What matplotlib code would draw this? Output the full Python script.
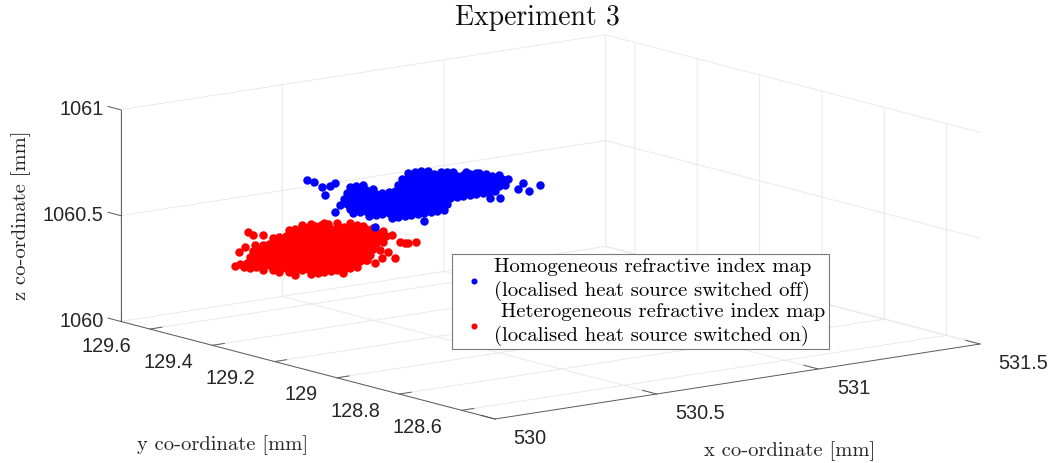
import numpy as np
import matplotlib
matplotlib.use("Agg")
import matplotlib.pyplot as plt
from matplotlib.transforms import offset_copy
from mpl_toolkits.mplot3d import proj3d

title_text = "Experiment 3"
x_label = "x co-ordinate [mm]"
y_label = "y co-ordinate [mm]"
z_label = "z co-ordinate [mm]"
legend_blue = "Homogeneous refractive index map\n(localised heat source switched off)"
legend_red = " Heterogeneous refractive index map\n(localised heat source switched on)"

x_ticks = [530, 530.5, 531, 531.5]
x_tick_labels = ["530", "530.5", "531", "531.5"]
y_ticks = [128.6, 128.8, 129, 129.2, 129.4, 129.6]
y_tick_labels = ["128.6", "128.8", "129", "129.2", "129.4", "129.6"]
z_ticks = [1060, 1060.5, 1061]
z_tick_labels = ["1060", "1060.5", "1061"]

blue_y_value = 129.093
blue_levels = [1060.658, 1060.683, 1060.708, 1060.733, 1060.758, 1060.783, 1060.808, 1060.833, 1060.858]
blue_x_rows = [
    [530.26, 530.28, 530.30, 530.32, 530.34, 530.36, 530.38, 530.40, 530.42],
    [530.19, 530.21, 530.23, 530.25, 530.27, 530.29, 530.31, 530.33, 530.35, 530.37, 530.39, 530.41, 530.43],
    [530.14, 530.16, 530.18, 530.20, 530.22, 530.24, 530.26, 530.28, 530.30, 530.32, 530.34, 530.36, 530.38, 530.40, 530.42, 530.44, 530.46, 530.48, 530.50, 530.52, 530.54, 530.56, 530.58],
    [530.13, 530.15, 530.17, 530.19, 530.21, 530.23, 530.25, 530.27, 530.29, 530.31, 530.33, 530.35, 530.37, 530.39, 530.41, 530.43, 530.45, 530.47, 530.49, 530.51, 530.53, 530.55, 530.57, 530.59, 530.61],
    [530.10, 530.12, 530.14, 530.16, 530.18, 530.20, 530.22, 530.24, 530.26, 530.28, 530.30, 530.32, 530.34, 530.36, 530.38, 530.40, 530.42, 530.44, 530.46, 530.48, 530.50, 530.52, 530.54, 530.56, 530.58, 530.60, 530.62],
    [530.11, 530.13, 530.15, 530.17, 530.19, 530.21, 530.23, 530.25, 530.27, 530.29, 530.31, 530.33, 530.35, 530.37, 530.39, 530.41, 530.43, 530.45, 530.47, 530.49, 530.51, 530.53, 530.55, 530.57, 530.59],
    [530.12, 530.14, 530.16, 530.18, 530.20, 530.28, 530.30, 530.32, 530.34, 530.36, 530.38, 530.40, 530.42, 530.44, 530.46, 530.48, 530.50, 530.52],
    [530.13, 530.15, 530.17, 530.29, 530.31, 530.33, 530.35, 530.37, 530.39, 530.41, 530.43],
    [530.31, 530.33, 530.35],
]
blue_extra_x = [530.37, 530.41, 530.45, 530.49, 530.53, 530.55, 530.60, 529.996, 530.019, 530.043, 530.053, 530.068, 530.084, 530.084, 530.208, 530.36, 530.563, 530.594, 530.666, 530.718, 530.685, 530.65]
blue_extra_z = [1060.852, 1060.842, 1060.832, 1060.821, 1060.808, 1060.795, 1060.760, 1060.900, 1060.887, 1060.855, 1060.816, 1060.855, 1060.864, 1060.730, 1060.630, 1060.621, 1060.680, 1060.672, 1060.729, 1060.706, 1060.687, 1060.703]

red_y_value = 129.393
red_levels = [1060.268, 1060.293, 1060.318, 1060.343, 1060.368, 1060.393, 1060.418, 1060.443, 1060.468, 1060.493]
red_x_rows = [
    [530.30, 530.32, 530.34, 530.36, 530.38, 530.40, 530.42, 530.44],
    [530.23, 530.25, 530.27, 530.29, 530.31, 530.33, 530.35, 530.37, 530.39, 530.41, 530.43, 530.45, 530.47],
    [530.18, 530.20, 530.22, 530.24, 530.26, 530.28, 530.30, 530.32, 530.34, 530.36, 530.38, 530.40, 530.42, 530.44, 530.46, 530.48],
    [530.11, 530.13, 530.15, 530.17, 530.19, 530.21, 530.23, 530.25, 530.27, 530.29, 530.31, 530.33, 530.35, 530.37, 530.39, 530.41, 530.43, 530.45, 530.47, 530.49],
    [530.08, 530.10, 530.12, 530.14, 530.16, 530.18, 530.20, 530.22, 530.24, 530.26, 530.28, 530.30, 530.32, 530.34, 530.36, 530.38, 530.40, 530.42, 530.44, 530.46, 530.48, 530.50, 530.52],
    [530.11, 530.13, 530.15, 530.17, 530.19, 530.21, 530.23, 530.25, 530.27, 530.29, 530.31, 530.33, 530.35, 530.37, 530.39, 530.41, 530.43, 530.45, 530.47, 530.49, 530.51, 530.53, 530.55],
    [530.12, 530.14, 530.16, 530.18, 530.20, 530.22, 530.24, 530.26, 530.28, 530.30, 530.32, 530.34, 530.36, 530.38, 530.40, 530.42, 530.44, 530.46, 530.48, 530.50, 530.52],
    [530.15, 530.17, 530.19, 530.21, 530.23, 530.25, 530.27, 530.29, 530.31, 530.33, 530.35, 530.37, 530.39, 530.41, 530.43, 530.45, 530.47, 530.49],
    [530.18, 530.20, 530.22, 530.24, 530.26, 530.28, 530.30, 530.32, 530.34, 530.36, 530.38, 530.40, 530.42, 530.44],
    [530.23, 530.25, 530.27, 530.29, 530.31, 530.33, 530.35],
]
red_extra_x = [530.065, 530.27, 530.30, 530.34, 530.38, 530.42, 530.46, 530.09, 530.15, 530.20, 530.25, 530.105, 530.118, 530.15, 530.077, 530.095, 530.126, 530.574, 530.59, 530.60, 530.624, 530.513, 530.538, 530.518, 530.557, 530.497, 530.471, 530.399]
red_extra_z = [1060.362, 1060.509, 1060.505, 1060.498, 1060.490, 1060.479, 1060.460, 1060.350, 1060.325, 1060.300, 1060.278, 1060.515, 1060.496, 1060.489, 1060.427, 1060.447, 1060.447, 1060.357, 1060.346, 1060.346, 1060.344, 1060.332, 1060.318, 1060.292, 1060.285, 1060.273, 1060.295, 1060.249]

blue_x = np.array([v for row in blue_x_rows for v in row] + blue_extra_x)
blue_z = np.array([lv for lv, row in zip(blue_levels, blue_x_rows) for _ in row] + blue_extra_z)
blue_y = np.full_like(blue_x, blue_y_value)
red_x = np.array([v for row in red_x_rows for v in row] + red_extra_x)
red_z = np.array([lv for lv, row in zip(red_levels, red_x_rows) for _ in row] + red_extra_z)
red_y = np.full_like(red_x, red_y_value)

xlim = (530, 531.5)
ylim = (128.493, 129.694)
zlim = (1060, 1061)

W, H = 1057, 463
SERIF = "cmr10"
SANS = "Liberation Sans"
TXT = "#262626"
AXC = "#5a5a5a"
GRID = "#e9e9e9"
MS = 37

fig = plt.figure(figsize=(W / 100, H / 100), dpi=100, facecolor="white")
ax = fig.add_axes([0, 0, H / W, 1], projection="3d", computed_zorder=False)
ax.set_proj_type("ortho")
ax.set_xlim(*xlim, view_margin=0)
ax.set_ylim(*ylim, view_margin=0)
ax.set_zlim(*zlim, view_margin=0)
ax.set_box_aspect((612, 613.5, 216))
ax.view_init(elev=11.58, azim=-127.6)
ax.set_facecolor("none")

# place the axes so that the projected box lands on the wanted corners
ax.apply_aspect()
M = ax.get_proj()
def project(x, y, z):
    X, Y, _ = proj3d.proj_transform(x, y, z, M)
    return X, Y
F = ax.transData.transform(project(xlim[0], ylim[0], zlim[0]))
R = ax.transData.transform(project(xlim[1], ylim[0], zlim[0]))
k = (980 - 495) / (R[0] - F[0])
S = H * k
left = 495 - k * F[0]
bottom = (H - 419) - k * F[1]
ax.set_position([left / W, bottom / H, S / W, S / H])

ax.set_xticks(x_ticks, labels=[""] * len(x_ticks))
ax.set_yticks(y_ticks, labels=[""] * len(y_ticks))
ax.set_zticks(z_ticks, labels=[""] * len(z_ticks))
ax.zaxis.set_ticks_position("upper")
ax.zaxis._get_tickdir = lambda position: 1

for axis, out in ((ax.xaxis, 0.47), (ax.yaxis, 0.31), (ax.zaxis, 0.42)):
    axis.set_pane_color((1, 1, 1, 0))
    axis.pane.set_edgecolor((1, 1, 1, 0))
    axis.line.set_color(AXC)
    axis.line.set_linewidth(0.7)
    axis._axinfo["grid"].update(color=GRID, linewidth=0.7, linestyle="-")
    axis._axinfo["tick"].update(inward_factor=0.0, outward_factor=out, linewidth={True: 0.7, False: 0.7}, color=AXC)
    axis.set_tick_params(color=AXC, width=0.7)
    for tick in axis.get_major_ticks():
        tick.label1.set_visible(False)
        tick.label2.set_visible(False)
    axis.label.set_visible(False)
    axis.offsetText.set_visible(False)

ax.scatter(red_x, red_y, red_z, s=MS, c="#ff0000", linewidths=0, depthshade=False, zorder=2, label=legend_red)
ax.scatter(blue_x, blue_y, blue_z, s=MS, c="#0000ff", linewidths=0, depthshade=False, zorder=3, label=legend_blue)

def off(dx, dy):
    return offset_copy(ax.transData, fig=fig, x=dx, y=dy, units="dots")

def tick_text(pos, s, dx, dy, ha):
    ax.text2D(*project(*pos), s, transform=off(dx, dy), ha=ha, va="center",
              family=SANS, fontsize=14.3, color=TXT)

for v, s in zip(x_ticks, x_tick_labels):
    tick_text((v, ylim[0], zlim[0]), s, 18.5, -19, "left")
for v, s in zip(y_ticks, y_tick_labels):
    tick_text((xlim[0], v, zlim[0]), s, -19, -17, "right")
for v, s in zip(z_ticks, z_tick_labels):
    tick_text((xlim[0], ylim[1], v), s, -17, 0, "right")

fig.text(537 / W, 1 - 18 / H, title_text, ha="center", va="center", family=SERIF, fontsize=20, color="#111111")
fig.text(790 / W, 1 - 451 / H, x_label, ha="center", va="center", family=SERIF, fontsize=14.8, color=TXT)
fig.text(223 / W, 1 - 445 / H, y_label, ha="center", va="center", family=SERIF, fontsize=14.8, color=TXT)
fig.text(21 / W, 1 - 215 / H, z_label, ha="center", va="center", rotation=90, family=SERIF, fontsize=14.8, color=TXT)

h = ax.collections
blue_handle = [c for c in h if c.get_label() == legend_blue][0]
red_handle = [c for c in h if c.get_label() == legend_red][0]
leg = ax.legend([blue_handle, red_handle], [legend_blue, legend_red], loc="center",
                bbox_to_anchor=(640.4 / W, 1 - 301.6 / H), bbox_transform=fig.transFigure,
                prop={"family": SERIF, "size": 14.9}, fancybox=False, framealpha=1, edgecolor="#7a7a7a",
                labelspacing=0.1, handletextpad=0.1, borderpad=0.15, handlelength=1.8, scatterpoints=1, markerscale=0.72)
leg.get_frame().set_linewidth(0.8)
for t in leg.get_texts():
    t.set_linespacing(1.32)

fig.savefig("out.png", dpi=100)
